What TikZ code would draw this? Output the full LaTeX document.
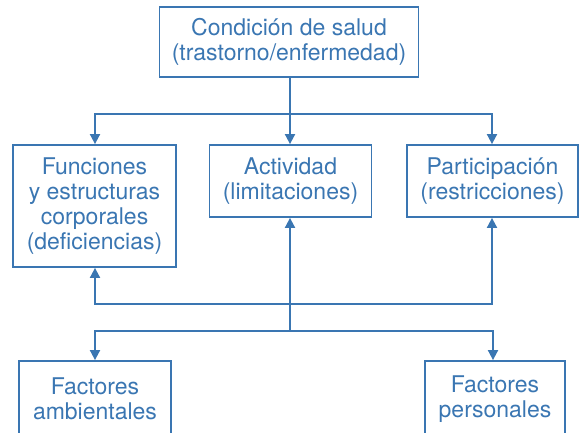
\documentclass[tikz,border=0pt]{standalone}
\usepackage{fontspec}
\setmainfont{TeX Gyre Heros}
\usetikzlibrary{arrows.meta}
\definecolor{icfblue}{RGB}{58,118,178}
\begin{document}
\begin{tikzpicture}[x=1pt,y=-1pt,
  box/.style={draw=icfblue,line width=1.8pt,text=icfblue,align=center,inner sep=0pt,
    font=\fontsize{23}{25}\selectfont},
  conn/.style={draw=icfblue,line width=1.8pt},
  arr/.style={conn,-{Triangle[length=10pt,width=10pt]}}]
\useasboundingbox (0,0) rectangle (579,433);
\begin{scope}
\clip (0,0) rectangle (579,433);
\node[box,minimum width=259pt,minimum height=70pt] (top) at (289,42) {Condición de salud\\(trastorno/enfermedad)};
\node[box,minimum width=163pt,minimum height=122pt] (fun) at (94.5,206) {Funciones\\y estructuras\\corporales\\(deficiencias)};
\node[box,minimum width=162pt,minimum height=72pt] (act) at (290.5,181) {Actividad\\(limitaciones)};
\node[box,minimum width=171pt,minimum height=72pt] (par) at (492.5,181) {Participación\\(restricciones)};
\node[box,minimum width=152pt,minimum height=76pt] (amb) at (95,399) {Factores\\ambientales};
\node[box,minimum width=140pt,minimum height=76pt] (per) at (495,399) {Factores\\personales};
\end{scope}
\coordinate (j1) at (290,114);
\coordinate (j2) at (290,304);
\coordinate (j3) at (290,331);
\draw[conn] (top.south -| j1) -- (j1);
\draw[arr] (j1) -| (fun.north -| 95,0);
\draw[arr] (j1) -- (act.north -| j1);
\draw[arr] (j1) -| (par.north -| 492,0);
\draw[arr] (j3) -- (act.south -| j1);
\draw[arr] (j2) -| (fun.south -| 95,0);
\draw[arr] (j2) -| (par.south -| 492,0);
\draw[arr] (j3) -| (amb.north -| 95,0);
\draw[arr] (j3) -| (per.north -| 493,0);
\end{tikzpicture}
\end{document}
